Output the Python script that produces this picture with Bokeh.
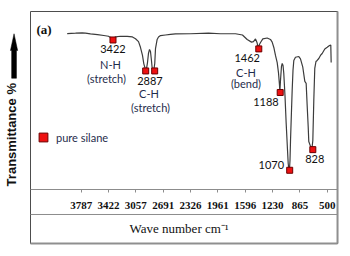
from bokeh.plotting import figure
from bokeh.models import (Range1d, LinearAxis, FixedTicker, Label, Legend, LegendItem,
                          ColumnDataSource)
from bokeh.core.properties import value
from bokeh.embed import file_html
from bokeh.resources import INLINE

# ---- data ----
wavenumber = [3974, 3863, 3774, 3730, 3663, 3569, 3485, 3422, 3373, 3329, 3262, 3172,
              3102, 3061, 3021, 2995, 2968, 2950, 2928, 2918, 2901, 2888, 2874, 2861,
              2848, 2838, 2817, 2804, 2794, 2772, 2754, 2727, 2661, 2594, 2527, 2327,
              2086, 1926, 1725, 1632, 1569, 1511, 1485, 1458, 1438, 1422, 1405, 1391,
              1360, 1302, 1258, 1235, 1213, 1191, 1168, 1151, 1137, 1133, 1124, 1111,
              1101, 1090, 1080, 1064, 1048, 1030, 1021, 1013, 1004, 997, 990, 977,
              968, 957, 946, 924, 879, 857, 826, 799, 781, 767, 754, 746,
              723, 703, 692, 679, 666, 650, 634, 612, 590, 567, 532, 500,
              469, 452, 447]
transmittance = [87.6, 87.8, 88.0, 87.9, 87.4, 87.0, 86.5, 86.1, 84.8, 85.7, 86.1, 86.0,
                 85.7, 84.7, 83.1, 79.9, 75.3, 70.6, 67.4, 66.9, 71.3, 76.4, 78.7, 77.5,
                 72.5, 68.0, 66.9, 70.8, 79.2, 84.3, 85.7, 86.5, 86.8, 87.1, 87.4, 87.5,
                 87.8, 87.5, 87.5, 86.8, 84.3, 82.8, 83.1, 84.6, 82.6, 79.5, 81.5, 82.6,
                 84.6, 85.1, 84.3, 82.8, 79.8, 75.3, 71.3, 65.7, 58.4, 54.5, 61.2, 69.1,
                 70.8, 69.7, 65.2, 52.8, 37.1, 21.9, 14.6, 11.5, 11.2, 16.3, 27.5, 44.4,
                 55.6, 66.9, 72.5, 74.3, 74.7, 73.4, 68.7, 60.7, 59.6, 46.6, 35.4, 27.0,
                 24.2, 23.3, 27.5, 50.0, 68.0, 71.9, 72.5, 73.6, 75.3, 76.4, 78.9, 79.9,
                 80.9, 81.2, 71.3]

marker_wn = [3362, 2925, 2805, 1414, 1128, 1001, 692]
marker_t = [84.0, 66.6, 66.6, 79.0, 54.5, 10.8, 22.4]

peak_labels = ["3422", "2887", "1462", "1188", "1070", "828"]
peak_label_wn = [3362, 2868, 1569, 1318, 1247, 666]
peak_label_t = [78.7, 61.2, 73.9, 49.4, 13.9, 17.1]

band_labels = ["N-H", "(stretch)", "C-H", "(stretch)", "C-H", "(bend)"]
band_label_wn = [3395, 3449, 2881, 2861, 1585, 1585]
band_label_t = [70.5, 62.4, 53.9, 46.1, 66.0, 59.6]

tick_values = [3787, 3422, 3057, 2691, 2326, 1961, 1596, 1230, 865, 500]
series_name = "pure silane"

# ---- layout of the framed box (data units) ----
box_left, box_right, box_top, box_bottom = 4464, 362, 100, -30.34
sep_level = -14.04

# the plotting frame covers the whole canvas; the box is drawn inside it
p = figure(width=349, height=255, output_backend="svg", toolbar_location=None,
           x_range=Range1d(start=4865, end=202), y_range=Range1d(start=-37.08, end=106.18),
           x_axis_location=None, y_axis_location=None,
           min_border_left=0, min_border_right=0, min_border_top=0, min_border_bottom=0)
p.grid.visible = False
p.outline_line_color = None
p.background_fill_color = "white"
p.border_fill_color = "white"

# y axis: title only, fixed at the left edge of the box
yax = LinearAxis(fixed_location=box_left, ticker=FixedTicker(ticks=[]),
                 bounds=(box_bottom, box_top))
yax.axis_line_color = None
yax.major_tick_line_color = None
yax.minor_tick_line_color = None
yax.major_tick_in = 0
yax.major_tick_out = 0
yax.minor_tick_in = 0
yax.minor_tick_out = 0
yax.major_label_standoff = 0
yax.axis_label = "Transmittance %" + "\u00a0" * 4
yax.axis_label_text_font = "Liberation Sans"
yax.axis_label_text_font_style = "bold"
yax.axis_label_text_font_size = "13px"
yax.axis_label_text_color = "#111111"
yax.axis_label_standoff = 12
p.add_layout(yax, "left")

xaxis = LinearAxis(fixed_location=0, ticker=FixedTicker(ticks=tick_values),
                   bounds=(box_right, box_left))
xaxis.axis_line_color = "#8c8c8c"
xaxis.major_tick_line_color = "#8c8c8c"
xaxis.major_tick_in = 0
xaxis.major_tick_out = 3
xaxis.minor_tick_line_color = None
xaxis.major_label_text_font = "Liberation Serif"
xaxis.major_label_text_font_style = "bold"
xaxis.major_label_text_font_size = "11px"
xaxis.major_label_text_color = "#111111"
xaxis.major_label_standoff = 10
xaxis.axis_label = "Wave number cm\u207b\u00b9" + "\u00a0" * 3
xaxis.axis_label_text_font = "Liberation Serif"
xaxis.axis_label_text_font_style = "normal"
xaxis.axis_label_text_font_size = "13px"
xaxis.axis_label_text_color = "#111111"
xaxis.axis_label_standoff = 8
p.add_layout(xaxis, "below")

# box, separator, heavier grey right/bottom edges
p.quad(left=[box_left], right=[box_right], top=[box_top], bottom=[box_bottom],
       fill_color=None, line_color="#4d4d4d", line_width=1)
p.segment(x0=[box_left], y0=[sep_level], x1=[box_right], y1=[sep_level],
          line_color="#8c8c8c", line_width=1)
p.segment(x0=[box_right, box_left], y0=[box_top, box_bottom],
          x1=[box_right, box_right], y1=[box_bottom, box_bottom],
          line_color="#8f8f8f", line_width=2)

src = ColumnDataSource(dict(x=wavenumber, y=transmittance))
p.line("x", "y", source=src, line_color="#3c3c3c", line_width=1.2)

msrc = ColumnDataSource(dict(x=marker_wn, y=marker_t))
mr = p.scatter("x", "y", source=msrc, marker="square", size=6, fill_color="#ee1111",
               line_color="#6b0000", line_width=1)

lsrc = ColumnDataSource(dict(x=peak_label_wn, y=peak_label_t, t=peak_labels))
p.text("x", "y", text="t", source=lsrc, text_font=value("Lato"), text_font_size="11px",
       text_color="#111111", text_align="center", text_baseline="middle")
bsrc = ColumnDataSource(dict(x=band_label_wn, y=band_label_t, t=band_labels))
p.text("x", "y", text="t", source=bsrc, text_font=value("Lato"), text_font_size="11px",
       text_color="#1f2d4d", text_align="center", text_baseline="middle")

p.add_layout(Label(x=4384, y=89.9, text="(a)", text_font="Liberation Serif",
                   text_font_style="bold", text_font_size="13px", text_color="#111111",
                   text_baseline="middle", text_align="left"))

legend = Legend(items=[LegendItem(label=series_name, renderers=[mr])],
                location=(32, 107), padding=0, margin=0, spacing=0,
                glyph_width=22, glyph_height=22, label_height=22, label_standoff=2,
                border_line_alpha=0, background_fill_alpha=0,
                label_text_font="Lato", label_text_font_size="11px",
                label_text_color="#1f2d4d")
p.add_layout(legend)

# upward arrow above the y-axis title, left of the box
ax_c, shaft_hw, head_hw = 4684, 32, 48
y_tail, y_head_base, y_tip = 62.5, 78.1, 87.5
p.patch(x=[ax_c + shaft_hw, ax_c + shaft_hw, ax_c + head_hw, ax_c,
           ax_c - head_hw, ax_c - shaft_hw, ax_c - shaft_hw],
        y=[y_tail, y_head_base, y_head_base, y_tip, y_head_base, y_head_base, y_tail],
        fill_color="black", line_color="black", line_width=0.5)

open("out.html", "w").write(file_html(p, INLINE))
